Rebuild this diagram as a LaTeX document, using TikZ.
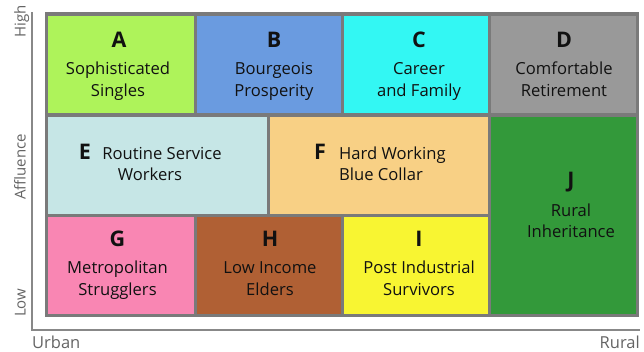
\documentclass[tikz,border=0pt]{standalone}
\usepackage{fontspec}
\setmainfont{Open Sans}
\definecolor{cA}{RGB}{174,243,90}
\definecolor{cB}{RGB}{106,155,224}
\definecolor{cC}{RGB}{51,247,243}
\definecolor{cD}{RGB}{153,153,153}
\definecolor{cE}{RGB}{198,230,230}
\definecolor{cF}{RGB}{248,208,133}
\definecolor{cG}{RGB}{249,134,179}
\definecolor{cH}{RGB}{176,96,52}
\definecolor{cI}{RGB}{248,245,50}
\definecolor{cJ}{RGB}{51,153,58}
\definecolor{frame}{RGB}{122,122,122}
\definecolor{axis}{RGB}{136,136,136}
\definecolor{axtext}{RGB}{100,100,100}
\definecolor{ink}{RGB}{17,17,17}
\begin{document}
\begin{tikzpicture}[x=1pt,y=-1pt,
  letter/.style={anchor=base,inner sep=0pt,font=\fontsize{21.5}{21.5}\selectfont\bfseries,text=ink},
  label/.style={anchor=base,inner sep=0pt,font=\fontsize{16.6}{16.6}\selectfont,text=ink},
  axlabel/.style={inner sep=0pt,font=\fontsize{15}{15}\selectfont,text=axtext},
  axlabelh/.style={inner sep=0pt,font=\fontsize{16.5}{16.5}\selectfont,text=axtext},
  axisline/.style={draw=axis,line width=2.2pt}]
\useasboundingbox (0,0) rectangle (644,351);
% axes
\coordinate (top) at (32,12);
\coordinate (origin) at (32,330);
\coordinate (right) at (640,330);
\draw[axisline] (top) -- (origin) -- (right);
% frame
\fill[frame] (45,12) rectangle (639,317);
% cells
\fill[cA] (48,16) rectangle (194,113);
\fill[cB] (197,16) rectangle (341,113);
\fill[cC] (344,16) rectangle (488,113);
\fill[cD] (491,16) rectangle (636,113);
\fill[cE] (48,116.5) rectangle (267,213.5);
\fill[cF] (270,116.5) rectangle (488,213.5);
\fill[cJ] (491,116.5) rectangle (636,314);
\fill[cG] (48,217) rectangle (194,314);
\fill[cH] (197,217) rectangle (341,314);
\fill[cI] (344,217) rectangle (488,314);
% texts row 1
\node[letter] (la) at (119,47) {A};
\node[label] (ta1) at (118,74) {Sophisticated};
\node[label] (ta2) at (118,96) {Singles};
\node[letter] (lb) at (274,47) {B};
\node[label] (tb1) at (274,74) {Bourgeois};
\node[label] (tb2) at (274,96) {Prosperity};
\node[letter] (lc) at (419,47) {C};
\node[label] (tc1) at (419,74) {Career};
\node[label] (tc2) at (419,96) {and Family};
\node[letter] (ld) at (564,47) {D};
\node[label] (td1) at (564,74) {Comfortable};
\node[label] (td2) at (564,96) {Retirement};
% row 2
\node[letter] (le) at (85,159) {E};
\node[label] (te1) at (162,159) {Routine Service};
\node[label] (te2) at (150,180.5) {Workers};
\node[letter] (lf) at (320,159) {F};
\node[label,anchor=base west] (tf1) at (339,159) {Hard Working};
\node[label,anchor=base west] (tf2) at (339,180.5) {Blue Collar};
\node[letter] (lj) at (571,187) {J};
\node[label] (tj1) at (571,216) {Rural};
\node[label] (tj2) at (571,237.5) {Inheritance};
% row 3
\node[letter] (lg) at (117.5,246.5) {G};
\node[label] (tg1) at (117.5,273.5) {Metropolitan};
\node[label] (tg2) at (117.5,295) {Strugglers};
\node[letter] (lh) at (270,246.5) {H};
\node[label] (th1) at (270,273.5) {Low Income};
\node[label] (th2) at (270,295) {Elders};
\node[letter] (li) at (419,246.5) {I};
\node[label] (ti1) at (419,273.5) {Post Industrial};
\node[label] (ti2) at (419,295) {Survivors};
% axis labels
\node[axlabelh,anchor=base west] (urban) at (32,348.5) {Urban};
\node[axlabelh,anchor=base east] (rural) at (640,348.5) {Rural};
\node[axlabel,rotate=90,anchor=base west] (high) at (25.5,38) {High};
\node[axlabel,rotate=90,anchor=base] (affl) at (25.5,167) {Affluence};
\node[axlabel,rotate=90,anchor=base west] (low) at (25.5,317) {Low};
\end{tikzpicture}
\end{document}
